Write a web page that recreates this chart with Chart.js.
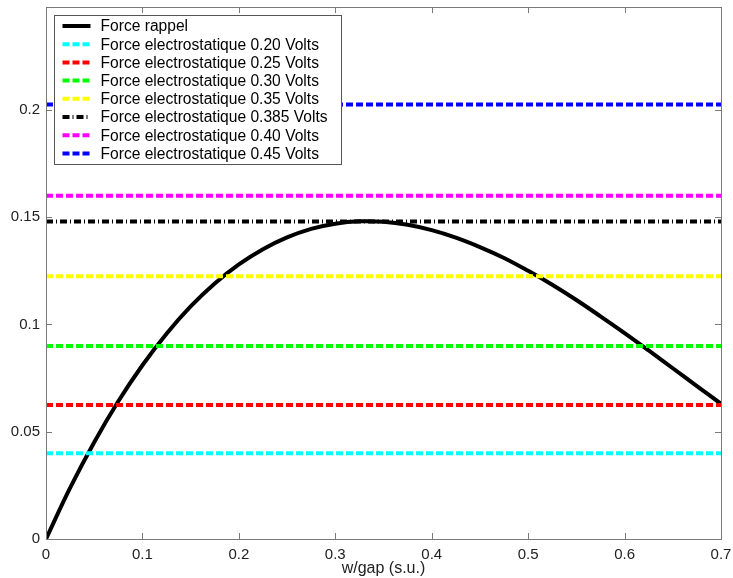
<!DOCTYPE html>
<html>
<head>
<meta charset="utf-8">
<script src="https://cdn.jsdelivr.net/npm/chart.js@4"></script>
<style>
  html, body { margin: 0; padding: 0; background: #fff; }
  #wrap { width: 733px; height: 578px; }
</style>
</head>
<body>
<div id="wrap"><canvas id="chart" width="733" height="578"></canvas></div>
<script>
// courbe "Force rappel"
const gapX = [0, 0.025, 0.05, 0.075, 0.1, 0.125, 0.15, 0.175, 0.2, 0.225, 0.25, 0.275, 0.3, 0.325, 0.35,
  0.375, 0.4, 0.425, 0.45, 0.475, 0.5, 0.525, 0.55, 0.575, 0.6, 0.625, 0.65, 0.675, 0.7];
const forceRappel = [0, 0.0238, 0.0451, 0.0642, 0.081, 0.0957, 0.1084, 0.1191, 0.128, 0.1351, 0.1406,
  0.1446, 0.147, 0.1481, 0.1479, 0.1465, 0.144, 0.1405, 0.1361, 0.131, 0.125, 0.1185, 0.1114, 0.1038,
  0.096, 0.0879, 0.0796, 0.0713, 0.063];

// forces electrostatiques (lignes horizontales)
const voltLabels = ['0.20', '0.25', '0.30', '0.35', '0.385', '0.40', '0.45'];
const elecForce = [0.04, 0.0625, 0.09, 0.1225, 0.148, 0.16, 0.2025];
const elecColors = ['#00ffff', '#ff0000', '#00ff00', '#ffff00', '#000000', '#ff00ff', '#0000ff'];

const xTicks = [0, 0.1, 0.2, 0.3, 0.4, 0.5, 0.6, 0.7];
const yTicks = [0, 0.05, 0.1, 0.15, 0.2];
const xRange = [0, 0.7];
const yRange = [0, 0.248];

const FONT = '"Liberation Sans", Arial, sans-serif';
const DASH = [7, 3];
const DASHDOT = [7, 3, 1, 3];

const datasets = [{
  label: 'Force rappel',
  data: gapX.map((x, i) => ({ x, y: forceRappel[i] })),
  borderColor: '#000',
  borderWidth: 4,
  pointRadius: 0,
  tension: 0.4,
  order: 10,
}];
elecForce.forEach((v, i) => {
  datasets.push({
    label: `Force electrostatique ${voltLabels[i]} Volts`,
    data: [{ x: xRange[0], y: v }, { x: xRange[1], y: v }],
    borderColor: elecColors[i],
    borderWidth: 4,
    borderDash: voltLabels[i] === '0.385' ? DASHDOT : DASH,
    pointRadius: 0,
    order: 1,
  });
});

// cadre + graduations vers l'intérieur (style matlab)
const boxPlugin = {
  id: 'box',
  afterDatasetsDraw(chart) {
    const { ctx, chartArea: a, scales } = chart;
    ctx.save();
    ctx.strokeStyle = '#7a7a7a';
    ctx.lineWidth = 1;
    ctx.setLineDash([]);
    ctx.beginPath();
    xTicks.forEach(t => {
      const px = Math.round(scales.x.getPixelForValue(t)) + 0.5;
      ctx.moveTo(px, a.bottom); ctx.lineTo(px, a.bottom - 6);
      ctx.moveTo(px, a.top); ctx.lineTo(px, a.top + 6);
    });
    yTicks.forEach(t => {
      const py = Math.round(scales.y.getPixelForValue(t)) + 0.5;
      ctx.moveTo(a.left, py); ctx.lineTo(a.left + 6, py);
      ctx.moveTo(a.right, py); ctx.lineTo(a.right - 6, py);
    });
    ctx.stroke();
    ctx.strokeRect(Math.round(a.left) + 0.5, Math.round(a.top) + 0.5,
      Math.round(a.right - a.left), Math.round(a.bottom - a.top));
    ctx.restore();
  }
};

// légende dessinée dans la zone du graphe, en haut à gauche
const legendPlugin = {
  id: 'insideLegend',
  afterDatasetsDraw(chart) {
    const { ctx, chartArea: a } = chart;
    const x0 = Math.round(a.left) + 8.5, y0 = Math.round(a.top) + 8.5;
    const w = 287, rowH = 18.2, h = 149;
    ctx.save();
    ctx.fillStyle = '#fff';
    ctx.fillRect(x0, y0, w, h);
    ctx.strokeStyle = '#555';
    ctx.lineWidth = 1;
    ctx.strokeRect(x0, y0, w, h);
    ctx.font = '15.6px ' + FONT;
    ctx.textBaseline = 'middle';
    datasets.forEach((d, i) => {
      const cy = y0 + 10.5 + i * rowH;
      ctx.strokeStyle = d.borderColor;
      ctx.lineWidth = 4;
      ctx.setLineDash(d.borderDash || []);
      ctx.beginPath();
      ctx.moveTo(x0 + 8, cy);
      ctx.lineTo(x0 + 36, cy);
      ctx.stroke();
      ctx.setLineDash([]);
      ctx.fillStyle = '#000';
      ctx.fillText(d.label, x0 + 46, cy + 1);
    });
    ctx.restore();
  }
};

new Chart(document.getElementById('chart'), {
  type: 'line',
  data: { datasets },
  plugins: [boxPlugin, legendPlugin],
  options: {
    responsive: false,
    animation: false,
    layout: { padding: { top: 7, right: 12, left: 0, bottom: 0 } },
    plugins: { legend: { display: false }, tooltip: { enabled: false } },
    scales: {
      x: {
        type: 'linear',
        min: xRange[0], max: xRange[1],
        afterBuildTicks: s => { s.ticks = xTicks.map(v => ({ value: v })); },
        afterFit: s => { s.height = 39; s.paddingLeft = 0; s.paddingRight = 0; },
        grid: { display: false, drawTicks: false },
        border: { display: false },
        ticks: {
          color: '#222', font: { family: FONT, size: 15 }, padding: 7, maxRotation: 0,
          callback: v => String(v),
        },
        title: {
          display: true, text: 'w/gap (s.u.)', color: '#222',
          font: { family: FONT, size: 16 }, padding: { top: 0, bottom: 0 },
        },
      },
      y: {
        min: yRange[0], max: yRange[1],
        afterBuildTicks: s => { s.ticks = yTicks.map(v => ({ value: v })); },
        afterFit: s => { s.width = 46; s.paddingTop = 0; s.paddingBottom = 0; },
        grid: { display: false, drawTicks: false },
        border: { display: false },
        ticks: {
          color: '#222', font: { family: FONT, size: 15 }, padding: 6,
          callback: v => String(v),
        },
      },
    },
  },
});
</script>
</body>
</html>
